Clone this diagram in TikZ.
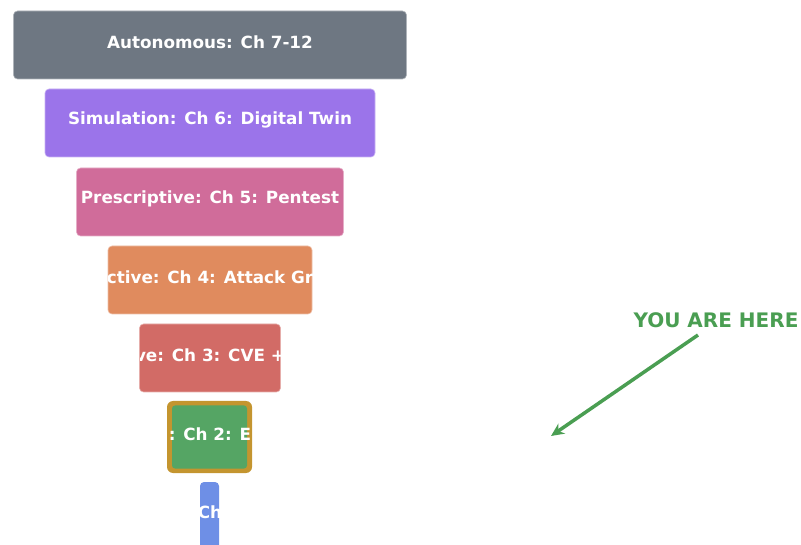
\documentclass[tikz,border=0pt]{standalone}
\usepackage{fontspec}
\setmainfont{DejaVu Sans}
\usetikzlibrary{arrows.meta}
\definecolor{lvgrey}{HTML}{6E7782}
\definecolor{lvpurple}{HTML}{9B74EA}
\definecolor{lvpink}{HTML}{D06C9A}
\definecolor{lvorange}{HTML}{E08B5E}
\definecolor{lvred}{HTML}{D26B66}
\definecolor{lvgreen}{HTML}{55A564}
\definecolor{lvgold}{HTML}{C4952F}
\definecolor{lvblue}{HTML}{6E8FE6}
\definecolor{herecol}{HTML}{4A9E52}

\begin{document}
\begin{tikzpicture}[x=1pt, y=-1pt,
    lvlbox/.style={rounded corners=4pt},
    lvltext/.style={text=white, inner sep=0pt, font=\bfseries\fontsize{16.8}{20}\selectfont},
    heretext/.style={text=herecol, inner sep=0pt, font=\bfseries\fontsize{20}{24}\selectfont}]
	    \useasboundingbox (0,0) rectangle (801,545);
	    % levels, top to bottom
	    \foreach \bw/\cy/\col/\txt [count=\i] in {393/45/lvgrey/{Autonomous: Ch 7-12},
	            330/123/lvpurple/{Simulation: Ch 6: Digital Twin},
	            267/202/lvpink/{Prescriptive: Ch 5: Pentest},
	            204/280/lvorange/{ctive: Ch 4: Attack Gr},
	            141/358/lvred/{ve: Ch 3: CVE +}}{
	        \fill[\col, lvlbox] (210-\bw/2, \cy-34) rectangle (210+\bw/2, \cy+34);
	        \draw[\col!55!white, lvlbox, line width=0.6pt] (210-\bw/2, \cy-34) rectangle (210+\bw/2, \cy+34);
	        \begin{scope}
	            \clip[lvlbox] (210-\bw/2, \cy-34) rectangle (210+\bw/2, \cy+34);
	            \node[lvltext] (lvl\i) at (210, \cy-3) {\txt};
	        \end{scope}
	    }
	    % current level
	    \fill[lvgold, rounded corners=6pt] (167,401) rectangle (252,473);
	    \fill[lvgreen, rounded corners=3pt] (172,405.5) rectangle (247,468.5);
	    \begin{scope}
	        \clip[rounded corners=6pt] (167,401) rectangle (252,473);
	        \node[lvltext] (lvl6) at (210, 434) {: Ch 2: E};
	    \end{scope}
	    \fill[lvblue, lvlbox] (200,482) rectangle (219,560);
	    \begin{scope}
	        \clip[lvlbox] (200,482) rectangle (219,560);
	        \node[lvltext] (lvl7) at (210, 512) {Ch};
	    \end{scope}
	    % marker
	    \node[heretext] (here) at (716,320) {YOU ARE HERE};
	    \coordinate (tail) at (698,335);
	    \coordinate (tip) at (551,436);
	    \draw[herecol, line width=3.5pt, -{Stealth[length=13pt, width=12pt]}] (tail) -- (tip);
\end{tikzpicture}
\end{document}
